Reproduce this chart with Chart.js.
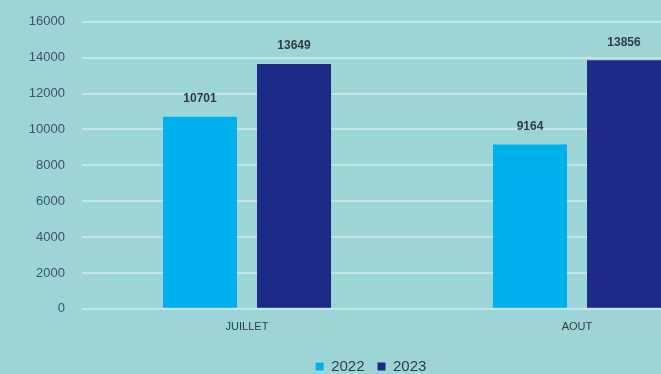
<!DOCTYPE html>
<html>
<head>
<meta charset="utf-8">
<script src="https://cdn.jsdelivr.net/npm/chart.js@4"></script>
<style>
  html, body { margin: 0; padding: 0; background: #9dd5d6; overflow: hidden; }
  #wrap { width: 661px; height: 374px; overflow: hidden; position: relative; }
  #box { width: 770px; height: 387px; position: absolute; left: 0; top: -3px; }
</style>
</head>
<body>
<div id="wrap"><div id="box"><canvas id="c" width="770" height="387"></canvas></div></div>
<script>
const categories = ["JUILLET", "AOUT"];
const series2022 = [10701, 9164];
const series2023 = [13649, 13856];
const seriesNames = ["2022", "2023"];
const yTicks = [0, 2000, 4000, 6000, 8000, 10000, 12000, 14000, 16000];

const valueLabels = {
  id: 'valueLabels',
  afterDatasetsDraw(chart) {
    const ctx = chart.ctx;
    ctx.save();
    ctx.font = 'bold 12px "Liberation Sans", Arial, sans-serif';
    ctx.fillStyle = '#2b3d47';
    ctx.textAlign = 'center';
    ctx.textBaseline = 'middle';
    chart.data.datasets.forEach((ds, i) => {
      chart.getDatasetMeta(i).data.forEach((bar, j) => {
        ctx.fillText(String(ds.data[j]), bar.x, bar.y - 18);
      });
    });
    ctx.restore();
  }
};

new Chart(document.getElementById('c'), {
  type: 'bar',
  data: {
    labels: categories,
    datasets: [
      { label: seriesNames[0], data: series2022, backgroundColor: '#00b0ef' },
      { label: seriesNames[1], data: series2023, backgroundColor: '#1e2a88' }
    ]
  },
  options: {
    responsive: false,
    animation: false,
    devicePixelRatio: 1,
    categoryPercentage: 0.57,
    barPercentage: 0.787,
    layout: { padding: { top: 17, right: 28, bottom: 0, left: 0 } },
    plugins: {
      tooltip: { enabled: false },
      legend: {
        position: 'bottom',
        labels: {
          boxWidth: 8, boxHeight: 8, padding: 13,
          color: '#2b3d47',
          font: { size: 15, family: '"Liberation Sans", Arial, sans-serif' }
        }
      }
    },
    scales: {
      x: {
        grid: { display: false, drawTicks: false },
        border: { display: false },
        ticks: {
          color: '#2b3d47', padding: 12,
          font: { size: 11, family: '"Liberation Sans", Arial, sans-serif' }
        }
      },
      y: {
        min: 0, max: 16000,
        afterBuildTicks(scale) { scale.ticks = yTicks.map(v => ({ value: v })); },
        afterFit(scale) { scale.width = 82; },
        grid: { color: '#c2e6e6', lineWidth: 2, drawTicks: false },
        border: { display: false },
        ticks: {
          color: '#3a5462', padding: 17,
          callback: (v) => String(v),
          font: { size: 13, family: '"Liberation Sans", Arial, sans-serif' }
        }
      }
    }
  },
  plugins: [valueLabels]
});
</script>
</body>
</html>
